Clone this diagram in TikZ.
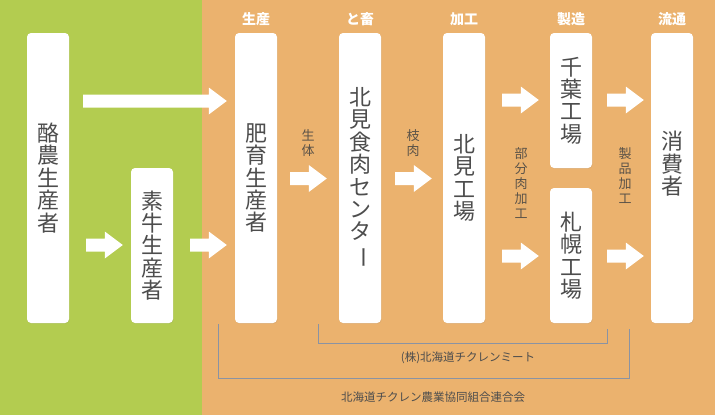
\documentclass[tikz,border=0pt]{standalone}
\usepackage{fontspec}
\setmainfont{Noto Sans CJK JP}
\usetikzlibrary{calc,shadows}
\definecolor{greenbg}{HTML}{B3CC50}
\definecolor{orangebg}{HTML}{EBB26E}
\definecolor{boxtext}{HTML}{4D4D4D}
\definecolor{labtext}{HTML}{5A5248}
\definecolor{bracket}{HTML}{8A93A3}
\tikzset{
  boxtxt/.style={inner sep=0pt, text=boxtext, align=center, font=\fontsize{22}{22.4}\selectfont},
  box/.style={boxtxt, fill=white, rounded corners=4pt, minimum width=42pt,
    drop shadow={opacity=0.12, shadow xshift=0.6pt, shadow yshift=-0.8pt}},
  head/.style={text=white, font=\fontsize{14}{14}\selectfont\bfseries, inner sep=0pt},
  vlab/.style={text=labtext, align=center, font=\fontsize{13}{15}\selectfont, inner sep=0pt, anchor=north},
  hlab/.style={text=boxtext, font=\fontsize{11.5}{12}\selectfont, inner sep=0pt},
  brk/.style={draw=bracket, line width=0.9pt}
}
\newcommand\barrow[2]{\fill[white] let \p1=(#1), \p2=(#2) in
  (\x1,\y1+6.5pt) -- (\x2-18pt,\y1+6.5pt) -- (\x2-18pt,\y1+13.5pt) -- (\x2,\y1)
  -- (\x2-18pt,\y1-13.5pt) -- (\x2-18pt,\y1-6.5pt) -- (\x1,\y1-6.5pt) -- cycle;}
\begin{document}
\begin{tikzpicture}[x=1pt,y=-1pt]
\useasboundingbox (0,0) rectangle (715,415);
\fill[greenbg] (0,0) rectangle (202,415);
\fill[orangebg] (202,0) rectangle (715,415);

% headers
\node[head] (h1) at (256,19) {生産};
\node[head] (h2) at (360,19) {と畜};
\node[head] (h3) at (464,19) {加工};
\node[head] (h4) at (571,19) {製造};
\node[head] (h5) at (672,19) {流通};

% boxes
\node[box, minimum height=290pt] (milk) at (48,178) {酪\\農\\生\\産\\者};
\node[box, minimum height=155pt] (calf) at (152,245.5) {素\\牛\\生\\産\\者};
\node[box, minimum height=290pt] (fat) at (256,178) {肥\\育\\生\\産\\者};
\node[box, minimum height=290pt] (meat) at (360,178) {北\\見\\食\\肉\\セ\\ン\\タ\\\rotatebox[origin=c]{-90}{ー}};
\node[box, minimum height=290pt] (kf) at (464,178) {北\\見\\工\\場};
\node[box, minimum height=135pt] (chiba) at (571,100.5) {千\\葉\\工\\場};
\node[box, minimum height=135pt] (sap) at (571,255.5) {札\\幌\\工\\場};
\node[box, minimum height=290pt] (cons) at (672,178) {};
\node[boxtxt, anchor=north] (constext) at (672,131) {消\\費\\者};

% arrow end points
\path (milk.east |- 0,101) ++(14,0) coordinate (a1s);
\path (fat.west |- 0,101) ++(-8,0) coordinate (a1e);
\path (milk.east |- 0,245) ++(17,0) coordinate (a2s);
\path (calf.west |- 0,245) ++(-8,0) coordinate (a2e);
\path (calf.east |- 0,245) ++(17,0) coordinate (a3s);
\path (fat.west |- 0,245) ++(-8,0) coordinate (a3e);
\path (fat.east |- 0,178.5) ++(13,0) coordinate (a4s);
\path (meat.west |- 0,178.5) ++(-12,0) coordinate (a4e);
\path (meat.east |- 0,178.5) ++(14,0) coordinate (a5s);
\path (kf.west |- 0,178.5) ++(-11,0) coordinate (a5e);
\path (kf.east |- 0,100) ++(17,0) coordinate (a6s);
\path (chiba.west |- 0,100) ++(-11,0) coordinate (a6e);
\path (chiba.east |- 0,100) ++(15,0) coordinate (a7s);
\path (cons.west |- 0,100) ++(-7,0) coordinate (a7e);
\path (kf.east |- 0,256) ++(17,0) coordinate (a8s);
\path (sap.west |- 0,256) ++(-11,0) coordinate (a8e);
\path (sap.east |- 0,256) ++(15,0) coordinate (a9s);
\path (cons.west |- 0,256) ++(-7,0) coordinate (a9e);

\barrow{a1s}{a1e}
\barrow{a2s}{a2e}
\barrow{a3s}{a3e}
\barrow{a4s}{a4e}
\barrow{a5s}{a5e}
\barrow{a6s}{a6e}
\barrow{a7s}{a7e}
\barrow{a8s}{a8e}
\barrow{a9s}{a9e}

% arrow labels
\node[vlab] (l1) at (308,129) {生\\体};
\node[vlab] (l2) at (413,129) {枝\\肉};
\node[vlab] (l3) at (521,147) {部\\分\\肉\\加\\工};
\node[vlab] (l4) at (625,147) {製\\品\\加\\工};

% brackets
\draw[brk] (218,324) -- (218,378) -- (629,378) -- (629,329);
\draw[brk] (318,324) -- (318,343) -- (607,343) -- (607,329);
\node[hlab] (b1) at (468,358) {(株)北海道チクレンミート};
\node[hlab] (b2) at (433,397) {北海道チクレン農業協同組合連合会};
\end{tikzpicture}
\end{document}
